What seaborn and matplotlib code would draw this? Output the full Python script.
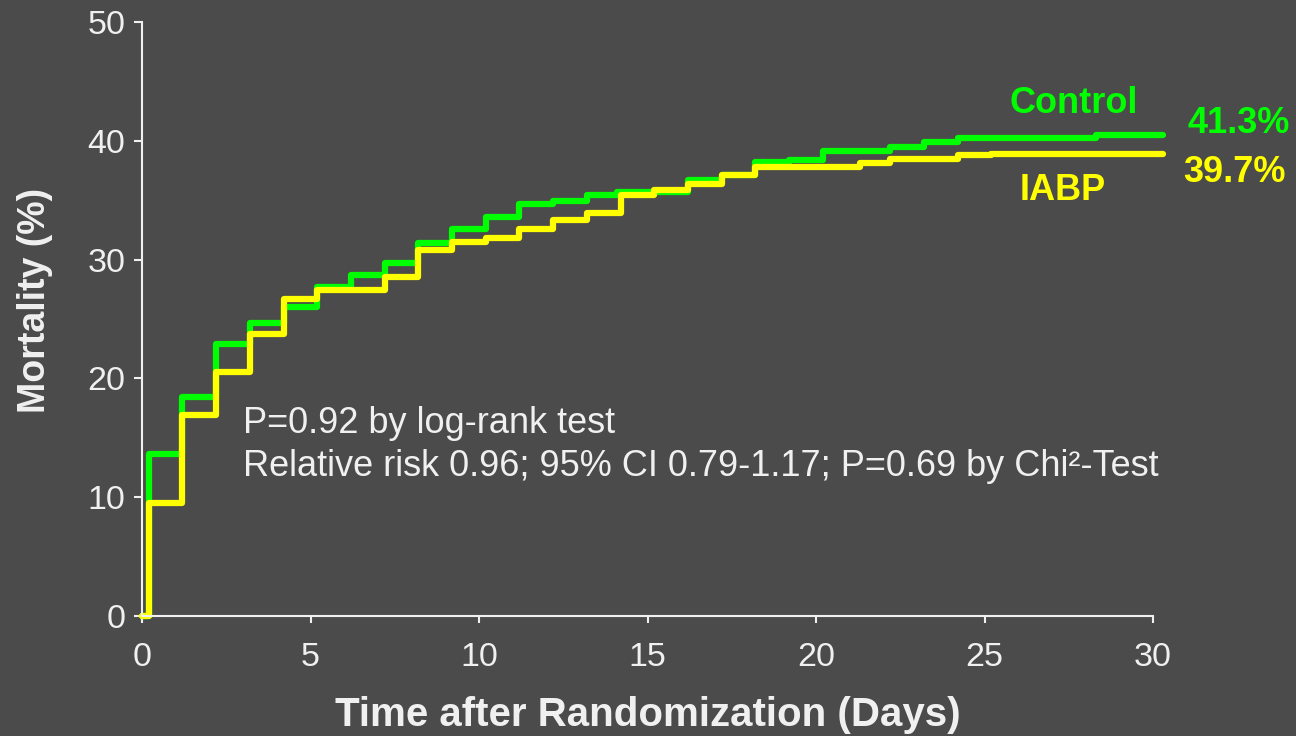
import matplotlib
matplotlib.use("Agg")
import matplotlib.pyplot as plt
import seaborn as sns

# Kaplan-Meier style cumulative mortality
control_days = [0, 0.2, 1.2, 2.2, 3.2, 4.2, 5.2, 6.2, 7.2, 8.2, 9.2, 10.2, 11.2, 12.2,
                13.2, 14.1, 16.2, 17.2, 18.2, 19.2, 20.2, 22.2, 23.2, 24.2, 28.3, 30.3]
control_mort = [0, 13.6, 18.4, 22.9, 24.7, 26.0, 27.7, 28.7, 29.7, 31.4, 32.6, 33.6, 34.7, 34.9,
                35.4, 35.7, 36.7, 37.1, 38.2, 38.4, 39.1, 39.5, 39.9, 40.2, 40.5, 40.5]

iabp_days = [0, 0.2, 1.2, 2.2, 3.2, 4.2, 5.2, 7.2, 8.2, 9.2, 10.2, 11.2, 12.2, 13.2,
             14.2, 15.2, 16.2, 17.2, 18.2, 21.3, 22.2, 24.2, 25.2, 30.3]
iabp_mort = [0, 9.5, 16.9, 20.5, 23.7, 26.7, 27.4, 28.5, 30.8, 31.5, 31.8, 32.6, 33.3, 33.9,
             35.4, 35.9, 36.4, 37.1, 37.8, 38.1, 38.5, 38.8, 38.9, 38.9]

x_ticks = [0, 5, 10, 15, 20, 25, 30]
y_ticks = [0, 10, 20, 30, 40, 50]
final_labels = ["41.3%", "39.7%"]
stats_lines = ["P=0.92 by log-rank test",
               "Relative risk 0.96; 95% CI 0.79-1.17; P=0.69 by Chi\u00b2-Test"]

BG = "#4b4b4b"
FG = "#f0f0f0"
GREEN = "#00ff00"
YELLOW = "#ffff00"

sns.set_style("ticks")
plt.rcParams["font.family"] = ["Liberation Sans", "DejaVu Sans"]

fig = plt.figure(figsize=(12.96, 7.36), dpi=100, facecolor=BG)
ax = fig.add_axes([142 / 1296, 1 - 616 / 736, (1153 - 142) / 1296, (616 - 22) / 736])
ax.set_facecolor(BG)

sns.lineplot(x=control_days, y=control_mort, ax=ax, color=GREEN, linewidth=4.5,
             drawstyle="steps-post", estimator=None, sort=False, clip_on=False)
sns.lineplot(x=iabp_days, y=iabp_mort, ax=ax, color=YELLOW, linewidth=4.5,
             drawstyle="steps-post", estimator=None, sort=False, clip_on=False)

ax.set_xlim(0, 30)
ax.set_ylim(0, 50)
ax.set_xticks(x_ticks)
ax.set_yticks(y_ticks)
sns.despine(ax=ax)
for s in ["left", "bottom"]:
    ax.spines[s].set_color(FG)
    ax.spines[s].set_linewidth(1.5)
ax.tick_params(axis="y", length=6, width=1.5, color=FG, labelcolor=FG, labelsize=24.5, pad=6)
ax.tick_params(axis="x", length=5, width=1.5, color=FG, labelcolor=FG, labelsize=24.5, pad=14)

ax.set_xlabel("Time after Randomization (Days)", fontsize=29, fontweight="bold", color=FG)
ax.xaxis.set_label_coords(0.5, -0.135)
ax.set_ylabel("Mortality (%)", fontsize=27, fontweight="bold", color=FG)
ax.yaxis.set_label_coords(-0.088, 0.532)

# group labels and final values
ax.text(27.66, 42.3, "Control", color=GREEN, fontsize=26, fontweight="bold", ha="center", va="baseline")
ax.text(32.55, 40.66, final_labels[0], color=GREEN, fontsize=26, fontweight="bold", ha="center", va="baseline")
ax.text(27.33, 35.0, "IABP", color=YELLOW, fontsize=26, fontweight="bold", ha="center", va="baseline")
ax.text(32.43, 36.56, final_labels[1], color=YELLOW, fontsize=26, fontweight="bold", ha="center", va="baseline")

ax.text(3.0, 16.2, stats_lines[0], color=FG, fontsize=26, va="center")
ax.text(3.0, 12.6, stats_lines[1], color=FG, fontsize=26, va="center")

fig.savefig("out.png", dpi=100, facecolor=BG)
